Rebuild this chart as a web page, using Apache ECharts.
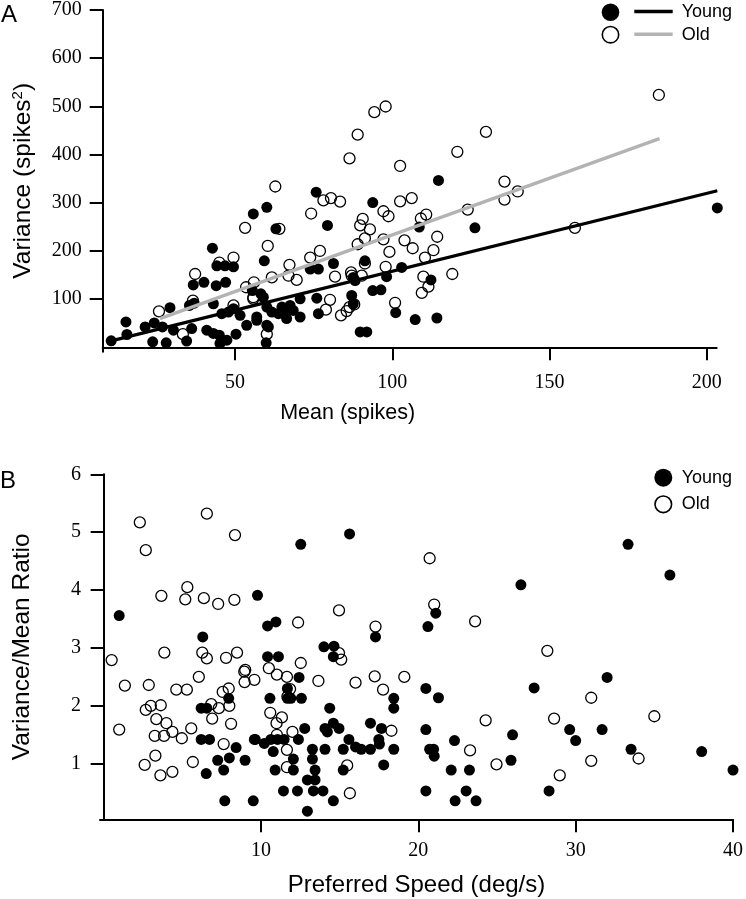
<!DOCTYPE html>
<html>
<head>
<meta charset="utf-8">
<script src="https://cdn.jsdelivr.net/npm/echarts@6/dist/echarts.min.js"></script>
<style>html,body{margin:0;padding:0;background:#fff}#c{width:746px;height:899px}</style>
</head>
<body>
<div id="c"></div>
<script>
// Panel A: Mean (spikes) vs Variance (spikes^2)
const topYoung = [[10.6,13.6],[15.6,26.7],[15.3,52.7],[21.4,42.4],[23.8,11.5],[24.3,50.6],[26.9,42.4],[28.1,9.5],[29.3,82.3],[30.4,35.6],[34.6,13],[36.2,39.1],[35.5,87],[37,91.7],[36.7,129.6],[40.1,135],[42.8,205.7],[44,128],[47,135],[44.2,169.3],[46.8,169.3],[49.5,167.2],[43.1,90.5],[41,35.6],[43.1,28.8],[45,25.3],[45.2,8.2],[47.4,15],[50.3,27.4],[45.8,70],[47.9,73.2],[49.5,80.2],[51.6,66.4],[53.7,45.9],[55.8,276.8],[60.1,290.6],[63,246],[59.3,179.6],[55.5,117.9],[58.2,111],[60.1,83.5],[56.9,63],[60.1,45.9],[59.9,9.5],[61.7,73.2],[65.4,73.2],[66.4,59.7],[68.5,76.7],[70.7,63],[70.7,100.8],[75.8,322],[79.4,253],[73.9,162.5],[76.5,162.5],[81.3,174],[76,102],[76.5,70],[93.8,300.4],[91.3,179.6],[88.2,138.5],[87.1,107.6],[87.6,90.5],[89.8,32.1],[91.9,32.1],[93.8,117.9],[98.2,146.7],[103,165.8],[96.4,119.3],[101.1,72],[107.3,57.6],[114.2,60.9],[108.6,249.6],[126.3,248],[112.3,139.9],[203.4,289.3],[114.7,346.3],[59,104],[63.8,70],[56.9,56.2],[60.6,42.4],[64.9,83.5],[67.5,87],[87.6,145]];
const topOld = [[62.8,333.8],[86.4,392],[89,441.4],[94.3,488],[97.9,499.8],[78.1,305],[80.5,309.7],[83.4,302.4],[184.8,523.7],[129.8,447],[120.7,405.8],[102.5,376.4],[135.7,344],[139.9,323.5],[135.7,306.5],[106.2,309.8],[102.5,303],[97.2,282.4],[98.8,272],[92.9,244.8],[97.2,224.2],[103.9,222],[106.5,205.7],[99.1,198],[109.1,267.4],[110.8,275.6],[114.3,229.5],[113.1,201.6],[110.4,186.3],[124,285.9],[158.1,248],[97.9,167.2],[109.9,146.6],[111.5,126],[109.4,113],[119.1,152.2],[100.9,92.5],[74.2,277.7],[64.1,246],[90.6,266.6],[89.8,253],[91.3,226.2],[89,214],[60.4,210.4],[77,200],[73.9,186.3],[67.3,171.3],[91.3,174],[61.7,145.2],[67,148.7],[69.6,139.9],[81.8,146.7],[86.9,155.5],[87.1,148.7],[90.3,148.7],[80.2,98.7],[78.9,78.2],[83.7,66.4],[85.5,75.3],[86.4,83.5],[87.9,89],[60.1,27.4],[25.8,74.7],[37.3,152.2],[45,176],[49.5,186.4],[53.2,248],[49.5,87],[53.5,124.7],[56,135],[55.8,100.8],[33.4,27.4],[55.8,104],[36.6,97]];
const fitYoung = [[10.6,13.6],[203.4,325]];
const fitOld = [[26.1,59.7],[185,433.2]];
const topXTicks = [50,100,150,200];
const topYTicks = [100,200,300,400,500,600,700];

// Panel B: Preferred Speed (deg/s) vs Variance/Mean Ratio
const bottomYoung = [[0.99,3.56],[6.3,3.19],[9.78,3.91],[12.53,4.79],[15.63,4.97],[10.42,3.38],[10.95,3.45],[10.42,2.85],[11.11,2.85],[14.0,3.02],[14.64,3.03],[14.6,2.85],[17.28,3.19],[6.2,1.96],[6.56,1.96],[7.95,2.13],[6.2,1.42],[6.73,1.42],[9.64,1.42],[8.42,1.28],[7.25,1.06],[7.99,1.1],[8.99,1.06],[6.52,0.83],[7.63,0.89],[7.7,0.36],[9.51,0.36],[12.42,2.49],[11.68,2.3],[11.68,2.13],[11.9,2.13],[12.57,2.13],[10.57,2.13],[14.37,1.96],[18.44,2.13],[18.44,1.96],[14.07,1.61],[14.6,1.7],[14.96,1.61],[16.96,1.7],[17.66,1.61],[12.78,1.61],[14.22,1.55],[9.58,1.42],[10.21,1.35],[10.63,1.42],[11.05,1.42],[11.47,1.42],[10.78,1.21],[12.38,1.42],[15.59,1.42],[16.01,1.29],[16.37,1.25],[16.96,1.25],[17.49,1.42],[17.53,1.34],[18.44,1.25],[13.27,1.25],[14.07,1.25],[15.23,1.25],[12.06,1.08],[13.27,1.08],[10.9,0.89],[12.06,0.89],[13.44,0.89],[15.23,0.89],[17.8,0.98],[12.95,0.72],[13.44,0.72],[11.43,0.53],[12.32,0.53],[13.33,0.53],[13.94,0.53],[14.6,0.36],[12.95,0.18],[20.48,2.3],[21.28,2.14],[20.48,1.59],[22.3,1.4],[20.72,1.25],[20.97,1.25],[21.01,1.13],[25.99,1.5],[25.89,1.06],[22.09,0.89],[23.25,0.89],[20.48,0.53],[23.04,0.53],[22.34,0.36],[23.67,0.36],[27.36,2.31],[32.0,2.49],[29.62,1.59],[30.0,1.4],[31.68,1.59],[33.52,1.25],[28.31,0.53],[38.01,1.21],[40.0,0.89],[33.33,4.79],[35.99,4.26],[26.52,4.09],[21.11,3.6],[20.61,3.37]];
const bottomOld = [[2.3,5.17],[6.56,5.32],[8.35,4.95],[2.68,4.69],[3.67,3.9],[5.32,4.05],[5.19,3.84],[6.37,3.86],[7.28,3.76],[8.31,3.83],[14.96,3.65],[12.36,3.44],[17.28,3.37],[0.51,2.79],[3.86,2.92],[6.27,2.92],[6.56,2.82],[7.78,2.83],[8.48,2.92],[12.53,2.74],[14.96,2.91],[15.1,2.8],[9.0,2.62],[10.5,2.65],[1.35,2.35],[2.87,2.36],[6.05,2.5],[4.62,2.28],[5.29,2.28],[7.57,2.24],[7.95,2.3],[8.94,2.59],[8.96,2.41],[9.58,2.45],[2.68,1.93],[3.0,2.0],[3.63,2.01],[6.84,2.03],[7.32,1.96],[7.99,2.0],[3.35,1.77],[3.99,1.7],[4.37,1.55],[6.9,1.78],[8.1,1.69],[3.25,1.48],[3.84,1.48],[4.97,1.44],[5.57,1.61],[0.99,1.59],[7.63,1.34],[3.29,1.14],[2.61,0.98],[3.61,0.8],[4.37,0.86],[5.67,1.03],[11.01,2.54],[11.65,2.5],[11.85,2.29],[11.68,2.16],[13.65,2.43],[16.01,2.4],[17.23,2.51],[17.76,2.28],[19.11,2.5],[10.59,1.88],[11.33,1.8],[10.99,1.7],[12.0,1.55],[11.01,1.5],[18.29,1.57],[11.65,1.24],[11.65,0.94],[15.48,0.97],[15.65,0.49],[24.28,1.75],[23.29,1.23],[24.97,0.99],[28.63,1.78],[28.99,0.8],[30.99,2.14],[30.99,1.05],[35.0,1.82],[34.0,1.09],[20.72,4.55],[21.01,3.75],[23.61,3.46],[28.2,2.95]];
const bottomXTicks = [10,20,30,40];
const bottomYTicks = [1,2,3,4,5,6];

const seriesNames = ['Young','Old'];

const axisLineStyle = {color:'#000', width:2};

function xAxisCfg(grid, min, max, ticks, name, gap, nameSize, namePad) {
  return {
    type:'value', gridIndex:grid, min:min, max:max,
    name:name, nameLocation:'middle', nameGap:gap,
    nameTextStyle:{fontFamily:'Liberation Sans', fontSize:nameSize, color:'#000', padding:namePad},
    axisLine:{show:true, lineStyle:axisLineStyle},
    axisTick:{show:true, inside:false, length:13, lineStyle:axisLineStyle, customValues:ticks},
    axisLabel:{show:true, margin:21, customValues:ticks, fontFamily:'Liberation Serif', fontSize:20, color:'#000'},
    splitLine:{show:false}
  };
}
function yAxisCfg(grid, min, max, ticks, name, gap, labelMargin, rich) {
  const nts = {fontFamily:'Liberation Sans', fontSize:24.5, color:'#000'};
  if (rich) nts.rich = rich;
  return {
    type:'value', gridIndex:grid, min:min, max:max,
    name:name, nameLocation:'middle', nameGap:gap, nameRotate:90, nameTextStyle:nts,
    axisLine:{show:true, lineStyle:axisLineStyle},
    axisTick:{show:true, inside:false, length:13, lineStyle:axisLineStyle, customValues:ticks},
    axisLabel:{show:true, margin:labelMargin, customValues:ticks, fontFamily:'Liberation Serif', fontSize:20, color:'#000'},
    splitLine:{show:false}
  };
}

const openStyle = {color:'rgba(255,255,255,0)', borderColor:'#000', borderWidth:1.3, opacity:1};
const filledStyle = {color:'#000', opacity:1};

const chart = echarts.init(document.getElementById('c'), null, {renderer:'canvas'});
chart.setOption({
  backgroundColor:'#fff',
  animation:false,
  grid:[
    {left:102.7, top:7, right:29.3, bottom:547.3},
    {left:100, top:474.3, right:10.3, bottom:79.7}
  ],
  xAxis:[
    xAxisCfg(0, 7.9, 203.2, topXTicks, 'Mean (spikes)', 50, 21.5, [0,124,0,0]),
    xAxisCfg(1, -0.23, 40, bottomXTicks, 'Preferred Speed (deg/s)', 54, 24, 0)
  ],
  yAxis:[
    yAxisCfg(0, -9, 700, topYTicks, 'Variance (spikes{sup|2})', 67, 21, {sup:{fontFamily:'Liberation Sans', fontSize:15, verticalAlign:'top', lineHeight:15, padding:[0,0,12,0]}}),
    yAxisCfg(1, 0.04, 6, bottomYTicks, 'Variance/Mean Ratio', 65, 19)
  ],
  series:[
    {name:seriesNames[1], type:'scatter', xAxisIndex:0, yAxisIndex:0, data:topOld, symbol:'circle', symbolSize:11, itemStyle:openStyle, clip:false, z:2},
    {name:seriesNames[0], type:'scatter', xAxisIndex:0, yAxisIndex:0, data:topYoung, symbol:'circle', symbolSize:11, itemStyle:filledStyle, clip:false, z:3},
    {name:'fit '+seriesNames[0], type:'line', xAxisIndex:0, yAxisIndex:0, data:fitYoung, showSymbol:false, lineStyle:{color:'#000', width:3.3}, z:5, clip:false},
    {name:'fit '+seriesNames[1], type:'line', xAxisIndex:0, yAxisIndex:0, data:fitOld, showSymbol:false, lineStyle:{color:'#b3b3b3', width:3.3}, z:4, clip:false},
    {name:seriesNames[1], type:'scatter', xAxisIndex:1, yAxisIndex:1, data:bottomOld, symbol:'circle', symbolSize:11, itemStyle:openStyle, clip:false, z:2},
    {name:seriesNames[0], type:'scatter', xAxisIndex:1, yAxisIndex:1, data:bottomYoung, symbol:'circle', symbolSize:11, itemStyle:filledStyle, clip:false, z:3}
  ],
  graphic:[
    {type:'text', left:1, top:3, style:{text:'A', font:'24px "Liberation Sans"', fill:'#000'}},
    {type:'text', left:0, top:469, style:{text:'B', font:'24px "Liberation Sans"', fill:'#000'}},
    // legend A
    {type:'circle', shape:{cx:610.5, cy:12.3, r:8.8}, style:{fill:'#000'}},
    {type:'circle', shape:{cx:610.5, cy:34.7, r:8.2}, style:{fill:'#fff', stroke:'#000', lineWidth:1.6}},
    {type:'line', shape:{x1:634.3, y1:11.5, x2:672.7, y2:11.5}, style:{stroke:'#000', lineWidth:3.5}},
    {type:'line', shape:{x1:634.3, y1:34.3, x2:672.7, y2:34.3}, style:{stroke:'#b3b3b3', lineWidth:3.5}},
    {type:'text', x:681.7, y:12, style:{text:seriesNames[0], font:'18px "Liberation Sans"', fill:'#000', verticalAlign:'middle'}},
    {type:'text', x:681.7, y:35, style:{text:seriesNames[1], font:'18px "Liberation Sans"', fill:'#000', verticalAlign:'middle'}},
    // legend B
    {type:'circle', shape:{cx:663.3, cy:477.7, r:9}, style:{fill:'#000'}},
    {type:'circle', shape:{cx:663.3, cy:504.3, r:8.3}, style:{fill:'#fff', stroke:'#000', lineWidth:1.6}},
    {type:'text', x:681.7, y:478, style:{text:seriesNames[0], font:'18px "Liberation Sans"', fill:'#000', verticalAlign:'middle'}},
    {type:'text', x:681.7, y:504.5, style:{text:seriesNames[1], font:'18px "Liberation Sans"', fill:'#000', verticalAlign:'middle'}}
  ]
});
</script>
</body>
</html>
